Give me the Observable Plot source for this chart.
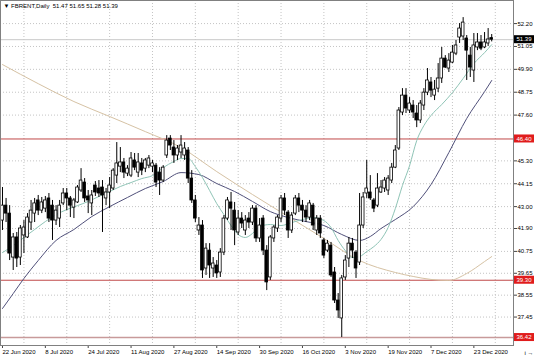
<!DOCTYPE html>
<html><head><meta charset="utf-8">
<script src="https://cdn.jsdelivr.net/npm/d3@7"></script>
<script src="https://cdn.jsdelivr.net/npm/@observablehq/plot@0.6"></script>
<style>body{margin:0;background:#fff;overflow:hidden}#chart svg{display:block}</style>
</head><body><div id="chart"></div>
<script>
const dateLabels = ["22 Jun 2020","8 Jul 2020","24 Jul 2020","11 Aug 2020","27 Aug 2020","14 Sep 2020","30 Sep 2020","16 Oct 2020","3 Nov 2020","19 Nov 2020","7 Dec 2020","23 Dec 2020"];
const dateTickIdx = [0,12,24,36,48,60,72,84,96,108,120,132];
const gridIdx = [6,18,30,42,54,66,78,90,102,114,126,138];
const priceTicks = [52.20,51.05,49.90,48.75,47.60,45.30,44.15,43.00,41.90,40.75,39.65,38.55,37.45];
const levels = [46.40,39.30,36.42];
const lastPrice = 51.39;
const titleText = "\u25BC FBRENT,Daily  51.47 51.65 51.28 51.39";

const opens = [42.30,43.05,42.65,40.44,41.45,40.44,41.55,41.45,42.20,42.65,43.31,42.80,42.90,43.41,43.05,42.30,42.40,43.16,43.66,43.41,42.95,43.21,43.81,44.21,43.51,43.16,44.06,43.91,43.96,43.41,43.71,43.91,44.56,45.01,45.22,44.66,44.56,45.32,44.71,45.17,44.91,45.06,45.01,45.06,44.71,44.31,45.57,46.42,45.97,45.57,45.72,45.57,45.82,44.41,43.31,41.80,42.05,39.89,40.79,39.89,40.04,39.69,40.69,42.40,43.21,42.80,41.70,42.40,41.80,42.40,42.20,42.90,41.40,42.40,40.79,39.44,41.40,41.90,42.40,43.41,42.70,41.80,42.65,43.41,43.05,42.80,42.45,43.05,41.80,42.40,41.30,40.79,41.04,39.69,38.28,37.38,39.44,40.39,41.14,40.69,40.19,42.05,43.66,43.71,43.31,43.05,43.71,43.91,43.81,44.31,44.96,45.92,47.73,48.58,47.83,48.08,47.68,47.33,48.08,48.73,49.24,48.58,48.93,49.44,50.44,49.94,50.24,50.69,51.50,51.55,51.45,50.59,49.84,51.00,51.25,51.00,51.20,51.47];
const highs = [43.96,43.41,43.05,41.65,41.70,42.05,42.30,42.65,43.31,43.41,43.56,43.46,43.51,43.66,43.31,43.05,43.31,43.91,43.91,43.51,43.41,44.06,44.91,44.41,43.81,43.81,44.26,44.31,44.31,43.91,44.46,44.91,46.22,45.97,45.42,45.06,45.72,45.67,45.67,45.42,45.42,45.57,45.32,45.17,44.96,45.06,46.57,46.57,46.32,46.07,46.57,46.22,45.97,44.81,43.56,42.45,42.30,41.14,41.14,40.44,40.29,40.89,42.55,43.46,43.71,43.21,42.80,42.70,42.55,42.70,43.05,43.05,42.40,42.55,41.04,41.55,42.05,42.55,43.56,43.66,42.80,42.70,43.56,43.66,43.31,43.05,43.31,43.16,42.55,42.55,41.40,41.30,41.20,39.94,38.63,39.54,40.54,41.45,41.40,40.79,43.66,43.71,45.32,44.56,43.41,44.66,44.31,44.46,44.56,45.17,46.07,47.98,48.93,48.93,48.48,48.33,48.08,48.33,48.93,49.94,49.49,49.34,50.19,51.00,50.59,50.69,51.10,51.35,52.20,52.50,51.60,51.00,51.70,51.70,51.60,51.75,51.95,51.65];
const lows = [41.80,42.20,40.29,39.79,39.94,40.04,40.64,41.40,41.80,42.20,42.55,42.65,42.70,42.20,41.30,42.05,41.95,43.05,42.80,42.45,42.40,43.16,43.71,43.21,42.65,42.55,43.51,43.46,41.70,43.05,42.90,43.81,44.16,44.71,44.41,44.51,44.46,44.81,44.46,44.56,44.71,44.91,44.71,43.96,43.56,44.21,45.42,45.82,45.17,45.32,45.42,45.32,44.16,43.16,42.20,41.55,39.39,39.54,39.39,39.44,39.39,39.44,40.54,42.30,41.80,41.04,41.55,41.90,41.55,41.90,42.05,41.20,41.20,40.54,38.78,39.29,41.20,41.70,42.20,42.55,41.40,41.65,42.55,42.70,42.20,42.20,42.30,41.80,41.55,41.40,40.39,40.69,39.44,38.13,37.38,36.42,39.29,39.94,40.39,39.39,40.04,41.90,43.41,43.31,42.70,42.95,43.66,43.71,43.56,44.16,44.91,45.82,47.58,47.68,47.68,47.43,46.97,47.18,47.83,48.58,48.48,48.33,48.73,49.19,49.94,49.74,50.19,50.59,51.20,51.35,49.34,49.49,49.24,50.84,50.84,50.94,51.05,51.28];
const closes = [43.05,42.65,40.64,41.45,40.39,41.90,41.95,42.45,42.80,43.16,42.80,43.21,43.31,42.40,42.30,42.80,43.05,43.66,43.41,43.05,43.31,43.96,44.31,43.41,43.31,43.56,43.71,43.66,43.56,43.71,44.06,44.81,45.17,45.22,44.71,44.91,45.42,44.96,45.22,44.81,45.32,45.42,45.17,44.21,44.31,44.96,46.32,46.07,45.57,45.92,46.07,45.92,44.41,43.31,42.40,42.05,39.79,40.89,40.04,40.14,39.64,40.69,42.40,43.31,42.90,41.80,42.40,42.15,42.30,42.20,42.90,41.40,42.05,40.79,39.19,41.45,41.95,42.45,43.41,42.80,41.80,42.55,43.41,43.05,42.80,42.45,43.16,42.05,42.40,41.65,40.54,41.14,39.54,38.28,37.78,39.39,40.29,41.14,40.79,39.89,42.05,43.46,43.91,43.41,42.90,43.91,43.96,44.31,44.41,44.96,45.82,47.83,48.58,47.93,48.18,47.73,47.33,48.18,48.73,49.34,48.83,48.88,49.44,50.44,49.99,50.34,50.74,51.10,51.95,52.25,50.84,49.99,51.10,51.25,50.94,51.25,51.40,51.39];

const maFastIdx = [0,3,6,9,12,15,18,21,24,27,30,33,36,39,42,45,48,50,52,54,56,58,60,62,64,66,68,70,72,75,78,81,84,87,90,92,94,96,98,100,102,104,106,108,110,112,114,116,118,120,123,126,129,132,135,137];
const maFast = [40.69,41.04,41.45,41.85,42.25,42.60,42.85,43.05,43.26,43.51,43.76,44.01,44.21,44.41,44.56,44.96,45.27,45.42,45.42,45.01,44.46,43.81,43.15,42.60,42.05,41.60,41.45,41.65,42.00,42.10,42.05,42.20,42.35,42.45,42.30,41.95,41.30,40.79,40.44,40.49,40.74,40.99,41.35,41.95,42.90,44.06,45.06,46.32,47.07,47.58,48.13,48.73,49.44,50.19,50.74,51.14];
const maMidIdx = [0,3,6,10,15,20,25,30,35,40,45,50,55,60,65,70,75,80,85,90,95,100,103,106,110,115,120,125,130,135,137];
const maMid = [37.88,38.63,39.39,40.29,41.30,41.85,42.50,43.00,43.46,43.91,44.26,44.71,44.61,44.16,43.76,43.26,42.75,42.45,42.25,42.05,41.60,41.30,41.50,41.90,42.35,43.00,44.11,45.72,47.43,48.78,49.34];
const maSlowIdx = [0,10,20,30,40,50,60,70,80,90,100,110,115,120,125,130,135,137];
const maSlow = [50.14,49.18,48.28,47.53,46.77,45.97,44.76,43.61,42.50,41.40,40.29,39.69,39.49,39.34,39.29,39.64,40.24,40.49];

const bars = opens.map((o, i) => ({i, o, h: highs[i], l: lows[i], c: closes[i]}));
const bull = bars.filter(d => d.c >= d.o);
const bear = bars.filter(d => d.c < d.o);
const fast = maFastIdx.map((i, k) => ({i, v: maFast[k]}));
const mid = maMidIdx.map((i, k) => ({i, v: maMid[k]}));
const slow = maSlowIdx.map((i, k) => ({i, v: maSlow[k]}));
const fmt = d => d.toFixed(2);

const chart = Plot.plot({
  width: 536, height: 357,
  marginLeft: 0, marginRight: 23, marginTop: 0, marginBottom: 12,
  x: {type: "linear", domain: [-0.56, 143.1], axis: null},
  y: {domain: [36.02, 53.36], axis: null},
  style: {fontFamily: "Liberation Sans, Arial, sans-serif", fontSize: "6px", background: "#fff", color: "#000", overflow: "visible"},
  marks: [
    Plot.gridY(priceTicks, {stroke: "#c4c4c4", strokeOpacity: 1, strokeDasharray: "1,2"}),
    Plot.gridX(gridIdx, {stroke: "#c4c4c4", strokeOpacity: 1, strokeDasharray: "1,2"}),
    Plot.ruleY([lastPrice], {stroke: "#c8c8c8", strokeWidth: 1}),
    Plot.ruleY([levels[0]], {stroke: "#c04848", strokeWidth: 1}),
    Plot.ruleY([levels[1]], {stroke: "#c04848", strokeWidth: 1}),
    Plot.ruleY([levels[2]], {stroke: "#c89a9a", strokeWidth: 1.5}),
    Plot.line(slow, {x: "i", y: "v", stroke: "#d6c2a4", strokeWidth: 1, curve: "monotone-x"}),
    Plot.line(mid, {x: "i", y: "v", stroke: "#50507a", strokeWidth: 1, curve: "monotone-x"}),
    Plot.line(fast, {x: "i", y: "v", stroke: "#8fc4b6", strokeWidth: 1, curve: "monotone-x"}),
    Plot.ruleX(bars, {x: "i", y1: "l", y2: "h", stroke: "#000", strokeWidth: 1}),
    Plot.rect(bull, {x1: d => d.i - 0.38, x2: d => d.i + 0.38, y1: "o", y2: "c", fill: "#fff", stroke: "#000", strokeWidth: 0.8}),
    Plot.rect(bear, {x1: d => d.i - 0.38, x2: d => d.i + 0.38, y1: "c", y2: "o", fill: "#000", stroke: "#000", strokeWidth: 0.8}),
    Plot.axisX(dateTickIdx, {anchor: "bottom", tickSize: 3, tickPadding: 1, textAnchor: "start", tickFormat: (d) => dateLabels[dateTickIdx.indexOf(d)], fontSize: 6, stroke: "#444"}),
    Plot.axisY(priceTicks, {anchor: "right", tickSize: 3, tickPadding: 1, tickFormat: fmt, fontSize: 6, stroke: "#444"}),
    Plot.frame({stroke: "#808080"}),
    Plot.text([titleText], {frameAnchor: "top-left", dx: 3, dy: 3, fontSize: 6, fill: "#000", textAnchor: "start", lineAnchor: "top"})
  ]
});

// price labels with coloured boxes on the right scale
const ys = chart.scale("y");
const svg = d3.select(chart);
const xRight = 536 - 23;
const boxes = [
  ...levels.map(v => ({v, bg: "#e01c1c"})),
  {v: lastPrice, bg: "#000"}
];
const g = svg.append("g")
  .attr("font-family", "Liberation Sans, Arial, sans-serif")
  .attr("font-size", 6)
  .attr("text-anchor", "middle");
for (const b of boxes) {
  const yy = ys.apply(b.v);
  g.append("rect").attr("x", xRight + 1).attr("y", yy - 4).attr("width", 20).attr("height", 8).attr("fill", b.bg);
  g.append("text").attr("x", xRight + 11).attr("y", yy).attr("dy", "0.35em")
    .attr("text-anchor", "middle").attr("fill", "#fff").text(fmt(b.v));
}
document.getElementById("chart").appendChild(chart);
</script>
</body></html>
